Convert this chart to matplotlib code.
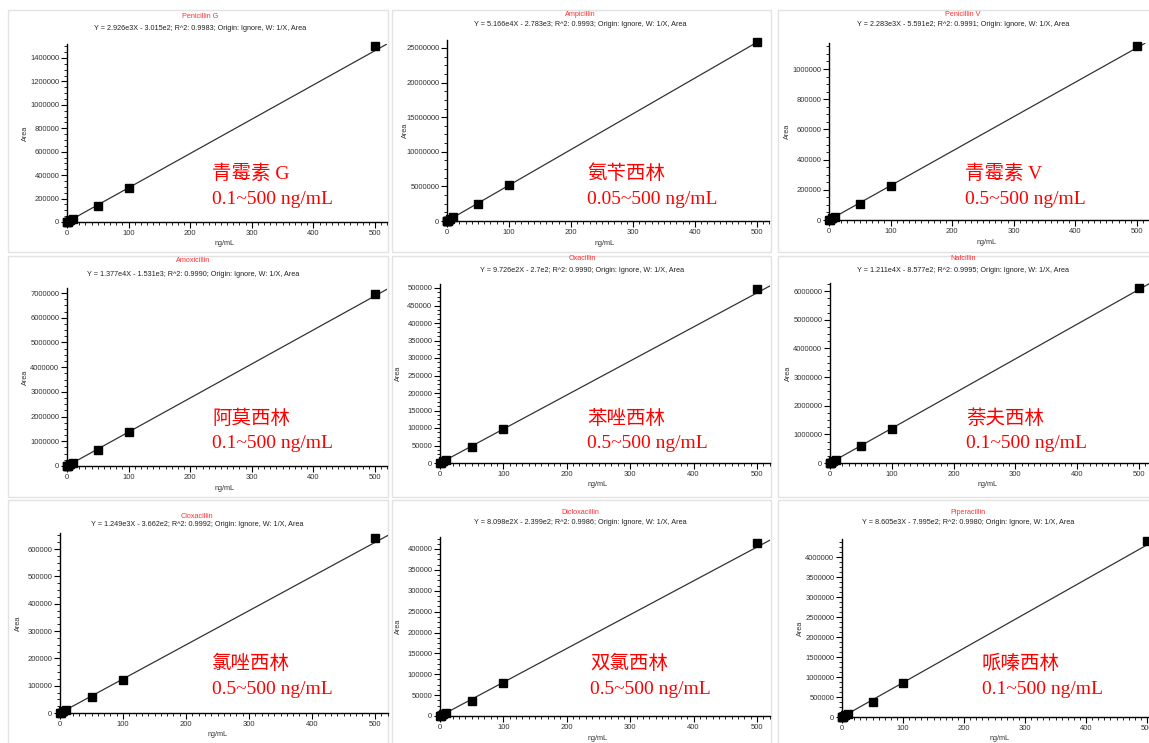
import matplotlib
matplotlib.use("Agg")
import matplotlib.pyplot as plt
from matplotlib.patches import Rectangle
from matplotlib.ticker import MultipleLocator, AutoMinorLocator, FuncFormatter

# ---- data ----
names = ["Penicillin G", "Ampicillin", "Penicillin V",
         "Amoxicillin", "Oxacillin", "Nafcillin",
         "Cloxacillin", "Dicloxacillin", "Piperacillin"]
cn_names = ["青霉素 G", "氨苄西林", "青霉素 V",
            "阿莫西林", "苯唑西林", "萘夫西林",
            "氯唑西林", "双氯西林", "哌嗪西林"]
ranges = ["0.1~500 ng/mL", "0.05~500 ng/mL", "0.5~500 ng/mL",
          "0.1~500 ng/mL", "0.5~500 ng/mL", "0.1~500 ng/mL",
          "0.5~500 ng/mL", "0.5~500 ng/mL", "0.1~500 ng/mL"]
slopes = [2.926e3, 5.166e4, 2.283e3, 1.377e4, 9.726e2, 1.211e4, 1.249e3, 8.098e2, 8.605e3]
intercepts = [-3.015e2, -2.783e3, -5.591e2, -1.531e3, -2.7e2, -8.577e2, -3.662e2, -2.399e2, -7.995e2]
equations = [
    "Y = 2.926e3X - 3.015e2; R^2: 0.9983; Origin: Ignore, W: 1/X, Area",
    "Y = 5.166e4X - 2.783e3; R^2: 0.9993; Origin: Ignore, W: 1/X, Area",
    "Y = 2.283e3X - 5.591e2; R^2: 0.9991; Origin: Ignore, W: 1/X, Area",
    "Y = 1.377e4X - 1.531e3; R^2: 0.9990; Origin: Ignore, W: 1/X, Area",
    "Y = 9.726e2X - 2.7e2; R^2: 0.9990; Origin: Ignore, W: 1/X, Area",
    "Y = 1.211e4X - 8.577e2; R^2: 0.9995; Origin: Ignore, W: 1/X, Area",
    "Y = 1.249e3X - 3.662e2; R^2: 0.9992; Origin: Ignore, W: 1/X, Area",
    "Y = 8.098e2X - 2.399e2; R^2: 0.9986; Origin: Ignore, W: 1/X, Area",
    "Y = 8.605e3X - 7.995e2; R^2: 0.9980; Origin: Ignore, W: 1/X, Area",
]

conc_pen_g = [0.1, 0.5, 1, 5, 10, 50, 100, 500]
area_pen_g = [250, 1200, 2700, 14200, 28500, 137000, 290000, 1500000]
conc_amp = [0.05, 0.1, 0.5, 1, 5, 10, 50, 100, 500]
area_amp = [2400, 5000, 24000, 49000, 255000, 510000, 2450000, 5150000, 25800000]
conc_pen_v = [0.5, 1, 5, 10, 50, 100, 500]
area_pen_v = [700, 1800, 10500, 21500, 105000, 225000, 1150000]
conc_amox = [0.1, 0.5, 1, 5, 10, 50, 100, 500]
area_amox = [1300, 6500, 13000, 67000, 135000, 640000, 1360000, 6950000]
conc_oxa = [0.5, 1, 5, 10, 50, 100, 500]
area_oxa = [300, 800, 4500, 9500, 45000, 97000, 497000]
conc_naf = [0.1, 0.5, 1, 5, 10, 50, 100, 500]
area_naf = [1100, 5800, 11500, 60000, 119000, 580000, 1190000, 6100000]
conc_clox = [0.5, 1, 5, 10, 50, 100, 500]
area_clox = [350, 900, 6000, 12000, 59000, 122000, 640000]
conc_diclox = [0.5, 1, 5, 10, 50, 100, 500]
area_diclox = [250, 600, 3800, 7800, 36000, 79000, 415000]
conc_pip = [0.1, 0.5, 1, 5, 10, 50, 100, 500]
area_pip = [600, 3500, 8000, 42000, 85000, 380000, 840000, 4400000]

concs = [conc_pen_g, conc_amp, conc_pen_v, conc_amox, conc_oxa, conc_naf,
         conc_clox, conc_diclox, conc_pip]
areas = [area_pen_g, area_amp, area_pen_v, area_amox, area_oxa, area_naf,
         area_clox, area_diclox, area_pip]
ystep = [200000, 5000000, 200000, 1000000, 50000, 1000000, 100000, 50000, 500000]
ymax = [1.52e6, 26.2e6, 1.17e6, 7.2e6, 5.12e5, 6.28e6, 6.58e5, 4.29e5, 4.45e6]

# ---- layout in screenshot pixels ----
W, H = 1149, 743
# x of 0, x of 500, y of 0, (ref value, y of ref)
axes_px = [
    (67, 375, 222, 1400000, 58), (447, 757, 221, 25e6, 48), (829, 1137, 220, 1e6, 69),
    (67, 375, 466, 7e6, 293), (440, 757, 463, 5e5, 288), (830, 1139, 463, 6e6, 291),
    (60, 375, 713, 6e5, 549), (440, 757, 716, 4e5, 549), (842, 1147, 717, 4e6, 557),
]
title_px = [(200, 17, 28), (580, 15, 25), (963, 14, 25),
            (193, 260, 274), (582, 259, 270), (963, 259, 270),
            (197, 516, 525), (580, 513, 523), (968, 513, 523)]
label_px = [(212, 174, 199), (587, 174, 199), (965, 174, 199),
            (212, 419, 444), (587, 419, 444), (966, 419, 444),
            (212, 664, 690), (590, 664, 690), (982, 664, 690)]
frames_x = [(8, 388), (392, 771), (778, 1160)]
frames_y = [(10, 252), (256, 497), (500, 746)]


def fx(x):
    return x / W


def fy(y):
    return 1 - y / H


fig = plt.figure(figsize=(11.49, 7.43), dpi=100)
fig.patch.set_facecolor("white")

# panel frames, behind everything
for (x0, x1) in frames_x:
    for (y0, y1) in frames_y:
        fig.patches.append(Rectangle((fx(x0), fy(y1)), (x1 - x0) / W, (y1 - y0) / H,
                                     transform=fig.transFigure, facecolor="white",
                                     edgecolor="#e2e2e2", lw=1.0, zorder=-5))

sans = "Liberation Sans"
fmt = FuncFormatter(lambda v, p: "%d" % round(v))

for i in range(9):
    x0, x500, y0, yref, yref_px = axes_px[i]
    sx = (x500 - x0) / 500.0
    sy = (y0 - yref_px) / yref
    xmax = 520
    left, right = x0, x0 + xmax * sx
    top = y0 - ymax[i] * sy
    ax = fig.add_axes([fx(left), fy(y0), (right - left) / W, (y0 - top) / H])
    ax.set_zorder(2)
    ax.set_xlim(0, xmax)
    ax.set_ylim(0, ymax[i])
    ax.patch.set_alpha(0)

    ax.axline((0, intercepts[i]), slope=slopes[i], color="#333333", lw=0.9, zorder=2)
    ax.plot(concs[i], areas[i], "s", color="black", ms=5.5, zorder=3, clip_on=False)

    for s in ["top", "right"]:
        ax.spines[s].set_visible(False)
    for s in ["left", "bottom"]:
        ax.spines[s].set_color("black")
        ax.spines[s].set_linewidth(1.0)
    ax.xaxis.set_major_locator(MultipleLocator(100))
    ax.xaxis.set_minor_locator(AutoMinorLocator(10))
    ax.yaxis.set_major_locator(MultipleLocator(ystep[i]))
    ax.yaxis.set_minor_locator(AutoMinorLocator(4))
    ax.yaxis.set_major_formatter(fmt)
    ax.tick_params(which="major", length=4, width=0.8, labelsize=5.5,
                   labelcolor="#333333", pad=1.5)
    ax.tick_params(which="minor", length=2, width=0.6)
    for lab in ax.get_xticklabels() + ax.get_yticklabels():
        lab.set_family(sans)

    # titles above each plot
    tx, ty1, ty2 = title_px[i]
    fig.text(fx(tx), fy(ty1), names[i], color="#ff3030", fontsize=5.2,
             family=sans, ha="center", va="center")
    fig.text(fx(tx), fy(ty2), equations[i], color="#222222", fontsize=5.2,
             family=sans, ha="center", va="center")

    # axis titles
    fig.text(fx(left - 42), fy((y0 + top) / 2), "Area", rotation=90, fontsize=5.2,
             family=sans, color="#333333", ha="center", va="center")
    fig.text(fx(x0 + 158), fy(y0 + 22), "ng/mL", fontsize=5.2, family=sans,
             color="#333333", ha="center", va="center")

    # red annotation
    lx, ly1, ly2 = label_px[i]
    fig.text(fx(lx), fy(ly1), cn_names[i], color="red", fontsize=14,
             family=["Liberation Serif", "Noto Sans CJK SC"], ha="left", va="center")
    fig.text(fx(lx), fy(ly2), ranges[i], color="red", fontsize=14,
             family=["Liberation Serif", "Noto Sans CJK SC"], ha="left", va="center")

fig.savefig("out.png", dpi=100)
